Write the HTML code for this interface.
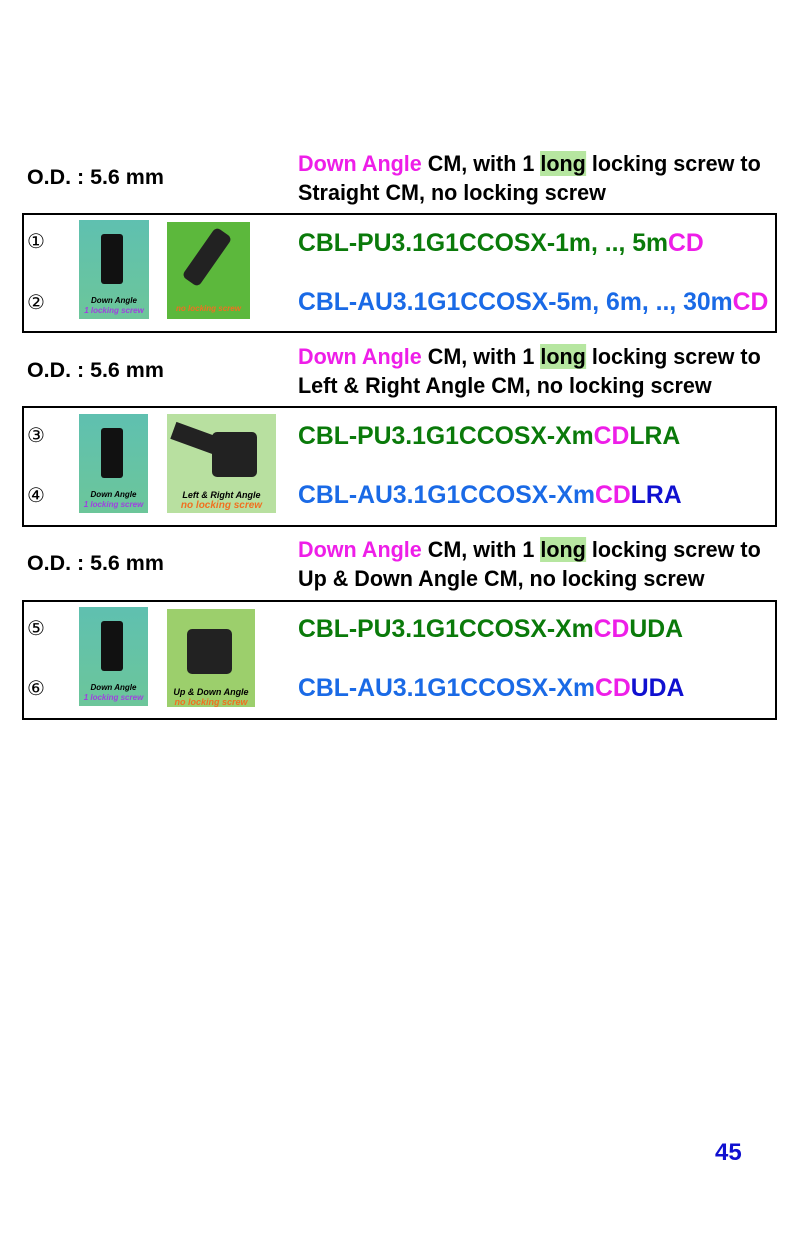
<!DOCTYPE html>
<html><head><meta charset="utf-8"><style>
body{margin:0;width:800px;height:1238px;background:#fff;position:relative;font-family:"Liberation Sans",sans-serif;font-weight:bold;overflow:hidden}
.a{position:absolute;white-space:nowrap;transform-origin:left center}
.od{font-size:21px;transform:scaleX(1.02);color:#000}
.h{font-size:22px;transform:scaleX(.98);color:#000;line-height:29px}
.p{font-size:25px;transform:scaleX(.99)}
.m{color:#ee1ee8}.g{color:#0a7a0a}.b{color:#1a6ae6}.n{color:#1010d0}
.hl{background:#b6e6a0}
.box{position:absolute;left:22px;width:751px;border:2px solid #000}
.num{font-size:20px;font-weight:normal;font-family:"DejaVu Sans",sans-serif}
.img{position:absolute;overflow:hidden}
.t1{position:absolute;left:0;right:0;text-align:center;font-size:8px;font-style:italic}
</style></head><body>

<div class="a od" style="left:27px;top:166px">O.D. : 5.6 mm</div>
<div class="a h" style="left:298px;top:149px"><span class="m">Down Angle</span> CM, with 1 <span class="hl">long</span> locking screw to<br>Straight CM, no locking screw</div>
<div class="box" style="top:213px;height:116px"></div>
<div class="a num" style="left:27px;top:229px">①</div>
<div class="a num" style="left:27px;top:290px">②</div>
<div class="img" style="left:79px;top:220px;width:70px;height:99px;background:linear-gradient(#5fc0b0,#6cc69a)"><div style="position:absolute;left:22px;top:14px;width:22px;height:50px;background:#111;border-radius:3px"></div><div class="t1" style="top:76px;color:#000">Down Angle</div><div class="t1" style="top:86px;color:#a040e0">1 locking screw</div></div>
<div class="img" style="left:167px;top:222px;width:83px;height:97px;background:#5cb83c"><div style="position:absolute;left:30px;top:5px;width:20px;height:60px;background:#222;transform:rotate(35deg);border-radius:5px"></div><div class="t1" style="top:82px;color:#f07020">no locking screw</div></div>
<div class="a p g" style="left:298px;top:229px">CBL-PU3.1G1CCOSX-1m, .., 5m<span class="m">CD</span></div>
<div class="a p b" style="left:298px;top:288px">CBL-AU3.1G1CCOSX-5m, 6m, .., 30m<span class="m">CD</span></div>

<div class="a od" style="left:27px;top:359px">O.D. : 5.6 mm</div>
<div class="a h" style="left:298px;top:342px"><span class="m">Down Angle</span> CM, with 1 <span class="hl">long</span> locking screw to<br>Left &amp; Right Angle CM, no locking screw</div>
<div class="box" style="top:406px;height:117px"></div>
<div class="a num" style="left:27px;top:423px">③</div>
<div class="a num" style="left:27px;top:483px">④</div>
<div class="img" style="left:79px;top:414px;width:69px;height:99px;background:linear-gradient(#5fc0b0,#6cc69a)"><div style="position:absolute;left:22px;top:14px;width:22px;height:50px;background:#111;border-radius:3px"></div><div class="t1" style="top:76px;color:#000">Down Angle</div><div class="t1" style="top:86px;color:#a040e0">1 locking screw</div></div>
<div class="img" style="left:167px;top:414px;width:109px;height:99px;background:#b8e0a0"><div style="position:absolute;left:45px;top:18px;width:45px;height:45px;background:#222;border-radius:5px"></div><div style="position:absolute;left:5px;top:15px;width:45px;height:18px;background:#222;transform:rotate(20deg)"></div><div class="t1" style="top:76px;color:#000;font-size:9px">Left &amp; Right Angle</div><div class="t1" style="top:86px;color:#f07020;font-size:10px">no locking screw</div></div>
<div class="a p g" style="left:298px;top:422px">CBL-PU3.1G1CCOSX-Xm<span class="m">CD</span>LRA</div>
<div class="a p b" style="left:298px;top:481px">CBL-AU3.1G1CCOSX-Xm<span class="m">CD</span><span class="n">LRA</span></div>

<div class="a od" style="left:27px;top:552px">O.D. : 5.6 mm</div>
<div class="a h" style="left:298px;top:535px"><span class="m">Down Angle</span> CM, with 1 <span class="hl">long</span> locking screw to<br>Up &amp; Down Angle CM, no locking screw</div>
<div class="box" style="top:600px;height:116px"></div>
<div class="a num" style="left:27px;top:616px">⑤</div>
<div class="a num" style="left:27px;top:676px">⑥</div>
<div class="img" style="left:79px;top:607px;width:69px;height:99px;background:linear-gradient(#5fc0b0,#6cc69a)"><div style="position:absolute;left:22px;top:14px;width:22px;height:50px;background:#111;border-radius:3px"></div><div class="t1" style="top:76px;color:#000">Down Angle</div><div class="t1" style="top:86px;color:#a040e0">1 locking screw</div></div>
<div class="img" style="left:167px;top:609px;width:88px;height:98px;background:#9ccf6c"><div style="position:absolute;left:20px;top:20px;width:45px;height:45px;background:#222;border-radius:5px"></div><div class="t1" style="top:78px;color:#000;font-size:9px">Up &amp; Down Angle</div><div class="t1" style="top:88px;color:#f07020;font-size:9px">no locking screw</div></div>
<div class="a p g" style="left:298px;top:615px">CBL-PU3.1G1CCOSX-Xm<span class="m">CD</span>UDA</div>
<div class="a p b" style="left:298px;top:674px">CBL-AU3.1G1CCOSX-Xm<span class="m">CD</span><span class="n">UDA</span></div>

<div class="a" style="left:715px;top:1139px;font-size:24px;color:#1010d0">45</div>
</body></html>
